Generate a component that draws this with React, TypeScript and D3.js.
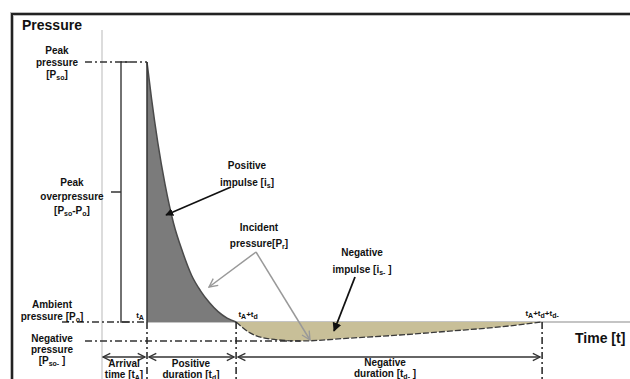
import React from "react";
import { scaleLinear, area, line, curveMonotoneX } from "d3";

// time in units of arrival time (tA = 1), pressure as fraction of peak overpressure
const posTime = [1, 1.1, 1.24, 1.4, 1.59, 1.79, 1.99, 2.19, 2.39, 2.58, 2.78, 2.98];
const posPressure = [1, 0.86, 0.69, 0.53, 0.38, 0.27, 0.18, 0.12, 0.074, 0.04, 0.015, 0];
const negTime = [2.98, 3.29, 3.73, 4.4, 5.51, 6.62, 7.73, 8.84, 9.78];
const negPressure = [0, -0.042, -0.065, -0.073, -0.062, -0.05, -0.035, -0.019, 0];

const tArrival = 1;
const tPosEnd = 2.98;
const tNegEnd = 9.78;
const pPeak = 1;
const pAmbient = 0;
const pNegPeak = -0.073;

const W = 630;
const H = 379;
const font = "'Liberation Sans', Arial, sans-serif";

function Sub({ children }: { children: string }) {
  return (
    <tspan fontSize="7" dy="1.5">
      {children}
    </tspan>
  );
}

export default function App() {
  const x = scaleLinear().domain([0, 1]).range([102, 147]);
  const y = scaleLinear().domain([0, 1]).range([322, 62]);

  const pos = posTime.map((t, i) => [t, posPressure[i]] as [number, number]);
  const neg = negTime.map((t, i) => [t, negPressure[i]] as [number, number]);

  const fillArea = area<[number, number]>()
    .x((d) => x(d[0]))
    .y0(y(pAmbient))
    .y1((d) => y(d[1]))
    .curve(curveMonotoneX);
  const edge = line<[number, number]>()
    .x((d) => x(d[0]))
    .y((d) => y(d[1]))
    .curve(curveMonotoneX);

  const xA = x(tArrival);
  const xD = x(tPosEnd);
  const xE = x(tNegEnd);
  const yPeak = y(pPeak);
  const y0 = y(pAmbient);
  const yNeg = y(pNegPeak);
  const yArrow = 357;
  const dashDot = "7,3,2,3";

  const label = {
    fontFamily: font,
    fontWeight: 700,
    fontSize: 10,
    fill: "#111",
    textAnchor: "middle" as const,
  };

  return (
    <svg
      width={W}
      height={H}
      style={{ position: "absolute", left: 0, top: 0, background: "#fff" }}
    >
      <defs>
        <marker id="open" viewBox="0 0 10 10" refX="9" refY="5" markerWidth="7" markerHeight="7" orient="auto-start-reverse">
          <path d="M1,1 L9,5 L1,9" fill="none" stroke="#333" strokeWidth="1.5" />
        </marker>
        <marker id="solid" viewBox="0 0 10 10" refX="9" refY="5" markerWidth="5" markerHeight="5" orient="auto">
          <path d="M0,0 L10,5 L0,10 z" fill="#111" />
        </marker>
        <marker id="grey" viewBox="0 0 10 10" refX="9" refY="5" markerWidth="7" markerHeight="7" orient="auto">
          <path d="M1,1 L9,5 L1,9" fill="none" stroke="#999" strokeWidth="1.3" />
        </marker>
      </defs>

      {/* frame */}
      <path d={`M12,${H} V14 H${W}`} fill="none" stroke="#bbb" strokeWidth="4" />
      <path d={`M12,${H} V14 H${W}`} fill="none" stroke="#222" strokeWidth="2" />

      {/* pressure axis */}
      <line x1={x(0)} x2={x(0)} y1={30} y2={H} stroke="#d0d0d0" strokeWidth="1.5" />
      <text x={22} y={30} fontFamily={font} fontWeight={700} fontSize={14} fill="#111">
        Pressure
      </text>

      {/* time axis */}
      <line x1={xA} x2={W} y1={y0} y2={y0} stroke="#c4c4c4" strokeWidth="2" />
      <text x={575} y={343} fontFamily={font} fontWeight={700} fontSize={14} fill="#111">
        Time [t]
      </text>

      {/* impulses */}
      <path d={fillArea(pos) || ""} fill="#7b7b7b" />
      <path d={edge(pos) || ""} fill="none" stroke="#4a4a4a" strokeWidth="1.5" />
      <line x1={xA} x2={xA} y1={yPeak} y2={y0} stroke="#333" strokeWidth="1.5" />
      <path d={fillArea(neg) || ""} fill="#c8bf98" />
      <path d={edge(neg) || ""} fill="none" stroke="#3a3a3a" strokeWidth="1.3" strokeDasharray="6,2" />

      {/* bracket for peak overpressure */}
      <path d={`M130,${yPeak} H121 V${y0} H130`} fill="none" stroke="#444" strokeWidth="1.5" />
      <line x1={111} x2={121} y1={192} y2={192} stroke="#333" strokeWidth="1.5" />

      {/* reference levels */}
      <line x1={85} x2={xA} y1={yPeak} y2={yPeak} stroke="#333" strokeWidth="1.5" strokeDasharray={dashDot} />
      <line x1={62} x2={xA} y1={y0} y2={y0} stroke="#333" strokeWidth="1.5" strokeDasharray={dashDot} />
      <line x1={85} x2={x(4.4)} y1={yNeg} y2={yNeg} stroke="#333" strokeWidth="1.3" strokeDasharray={dashDot} />

      {/* time markers */}
      {[xA, xD, xE].map((xv, i) => (
        <line key={i} x1={xv} x2={xv} y1={y0} y2={H} stroke="#222" strokeWidth="1.5" strokeDasharray={dashDot} />
      ))}

      {/* duration arrows */}
      <line x1={x(0) + 1} x2={xA - 2} y1={yArrow} y2={yArrow} stroke="#333" strokeWidth="1.3" markerStart="url(#open)" markerEnd="url(#open)" />
      <line x1={xA + 2} x2={xD - 2} y1={yArrow} y2={yArrow} stroke="#333" strokeWidth="1.3" markerStart="url(#open)" markerEnd="url(#open)" />
      <line x1={xD + 2} x2={xE - 2} y1={yArrow} y2={yArrow} stroke="#333" strokeWidth="1.3" markerStart="url(#open)" markerEnd="url(#open)" />

      {/* annotation arrows */}
      <line x1={231} y1={187} x2={166} y2={215} stroke="#111" strokeWidth="1.6" markerEnd="url(#solid)" />
      <line x1={256} y1={252} x2={209} y2={287} stroke="#999" strokeWidth="1.5" markerEnd="url(#grey)" />
      <line x1={256} y1={252} x2={310} y2={340} stroke="#999" strokeWidth="1.5" markerEnd="url(#grey)" />
      <line x1={355} y1={277} x2={334} y2={331} stroke="#111" strokeWidth="1.8" markerEnd="url(#solid)" />

      {/* left labels */}
      <text {...label} x={57} y={54}>Peak</text>
      <text {...label} x={57} y={66}>pressure</text>
      <text {...label} x={57} y={78}>[P<Sub>so</Sub><tspan dy="-1.5">]</tspan></text>

      <text {...label} x={72} y={186}>Peak</text>
      <text {...label} x={72} y={200}>overpressure</text>
      <text {...label} x={72} y={214}>[P<Sub>so</Sub><tspan dy="-1.5">-P</tspan><Sub>o</Sub><tspan dy="-1.5">]</tspan></text>

      <text {...label} x={52} y={308}>Ambient</text>
      <text {...label} x={52} y={320}>pressure [P<Sub>o</Sub><tspan dy="-1.5">]</tspan></text>

      <text {...label} x={52} y={342}>Negative</text>
      <text {...label} x={52} y={353}>pressure</text>
      <text {...label} x={52} y={364}>[P<Sub>so-</Sub><tspan dy="-1.5"> ]</tspan></text>

      {/* time labels */}
      <text {...label} fontSize={8} x={140} y={318}>t<Sub>A</Sub></text>
      <text {...label} fontSize={8} x={xD + 12} y={317}>t<Sub>A</Sub><tspan dy="-1.5">+t</tspan><Sub>d</Sub></text>
      <text {...label} fontSize={8} x={xE} y={316}>t<Sub>A</Sub><tspan dy="-1.5">+t</tspan><Sub>d</Sub><tspan dy="-1.5">+t</tspan><Sub>d-</Sub></text>

      <text {...label} x={124} y={367}>Arrival</text>
      <text {...label} x={124} y={378}>time [t<Sub>A</Sub><tspan dy="-1.5">]</tspan></text>
      <text {...label} x={191} y={367}>Positive</text>
      <text {...label} x={191} y={378}>duration [t<Sub>d</Sub><tspan dy="-1.5">]</tspan></text>
      <text {...label} x={385} y={366}>Negative</text>
      <text {...label} x={385} y={377}>duration [t<Sub>d-</Sub><tspan dy="-1.5"> ]</tspan></text>

      {/* annotation labels */}
      <text {...label} x={247} y={169}>Positive</text>
      <text {...label} x={247} y={186}>impulse [i<Sub>s</Sub><tspan dy="-1.5">]</tspan></text>
      <text {...label} x={259} y={231}>Incident</text>
      <text {...label} x={259} y={247}>pressure[P<Sub>r</Sub><tspan dy="-1.5">]</tspan></text>
      <text {...label} x={362} y={256}>Negative</text>
      <text {...label} x={362} y={273}>impulse [i<Sub>s-</Sub><tspan dy="-1.5"> ]</tspan></text>
    </svg>
  );
}
